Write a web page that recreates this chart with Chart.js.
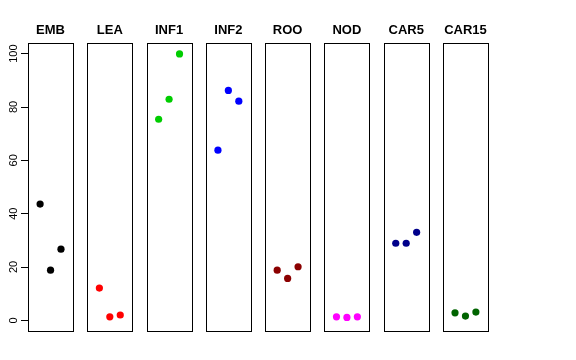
<!DOCTYPE html>
<html><head><meta charset="utf-8">
<script src="https://cdn.jsdelivr.net/npm/chart.js@4/dist/chart.umd.min.js"></script>
<style>html,body{margin:0;padding:0;background:#fff}#wrap{position:relative;width:576px;height:360px}</style>
</head><body><div id="wrap"><canvas id="c"></canvas></div>
<script>
const categories = ['EMB','LEA','INF1','INF2','ROO','NOD','CAR5','CAR15'];
const replicates = [1, 2, 3];
const EMB   = [43.6, 18.8, 26.7];
const LEA   = [12.1, 1.3, 2.0];
const INF1  = [75.4, 82.9, 99.9];
const INF2  = [63.8, 86.2, 82.2];
const ROO   = [18.8, 15.7, 20.1];
const NOD   = [1.3, 1.1, 1.3];
const CAR5  = [28.9, 28.9, 33.0];
const CAR15 = [2.8, 1.6, 3.1];
const seriesValues = [EMB, LEA, INF1, INF2, ROO, NOD, CAR5, CAR15];
const pointColors = ['#000000','#FF0000','#00CD00','#0000FF','#8B0000','#FF00FF','#00008B','#006400'];
const yTicks = [0, 20, 40, 60, 80, 100];

// panel layout (in x data units)
const STEP = 5.68, LO = -0.16, HI = 4.16;

const datasets = categories.map((c, k) => ({
  label: c,
  data: seriesValues[k].map((v, j) => ({x: k * STEP + replicates[j], y: v})),
  backgroundColor: pointColors[k],
  borderColor: pointColors[k],
  pointRadius: 3.6,
  pointBorderWidth: 0,
  showLine: false
}));

const panelPlugin = {
  id: 'panels',
  beforeDatasetsDraw(chart) {
    const {ctx, chartArea, scales} = chart;
    const xs = scales.x;
    ctx.save();
    ctx.strokeStyle = '#000';
    ctx.lineWidth = 1;
    categories.forEach((c, k) => {
      const l = Math.round(xs.getPixelForValue(k * STEP + LO)) + 0.5;
      const r = Math.round(xs.getPixelForValue(k * STEP + HI)) + 0.5;
      const t = Math.round(chartArea.top) + 0.5;
      const b = Math.round(chartArea.bottom) + 0.5;
      ctx.strokeRect(l, t, r - l, b - t);
    });
    ctx.restore();
  },
  afterDraw(chart) {
    const {ctx, chartArea, scales} = chart;
    const xs = scales.x, ys = scales.y;
    ctx.save();
    ctx.fillStyle = '#000';
    ctx.font = 'bold 13px "Liberation Sans", Arial, sans-serif';
    ctx.textAlign = 'center';
    ctx.textBaseline = 'alphabetic';
    categories.forEach((c, k) => {
      const cx = (xs.getPixelForValue(k * STEP + LO) + xs.getPixelForValue(k * STEP + HI)) / 2;
      ctx.fillText(c, cx, chartArea.top - 9.5);
    });
    ctx.font = '11px "Liberation Sans", Arial, sans-serif';
    ys.ticks.forEach(t => {
      const py = ys.getPixelForValue(t.value);
      ctx.save();
      ctx.translate(17.3, py);
      ctx.rotate(-Math.PI / 2);
      ctx.textAlign = 'center';
      ctx.fillText(String(t.value), 0, 0);
      ctx.restore();
    });
    ctx.restore();
  }
};

new Chart(document.getElementById('c'), {
  type: 'scatter',
  data: { datasets },
  options: {
    responsive: true,
    maintainAspectRatio: false,
    animation: false,
    devicePixelRatio: 1,
    layout: { padding: { top: 43, right: 88, bottom: 29, left: 0 } },
    plugins: { legend: { display: false }, tooltip: { enabled: false } },
    scales: {
      x: {
        type: 'linear', display: false,
        min: LO, max: 7 * STEP + HI
      },
      y: {
        type: 'linear', min: -4, max: 104,
        afterBuildTicks(s) { s.ticks = yTicks.map(v => ({value: v})); },
        afterFit(s) { s.width = 28; },
        ticks: { display: false },
        grid: { drawOnChartArea: false, drawTicks: true, tickLength: 7, color: '#000', lineWidth: 1 },
        border: { display: false }
      }
    }
  },
  plugins: [panelPlugin]
});
</script></body></html>
